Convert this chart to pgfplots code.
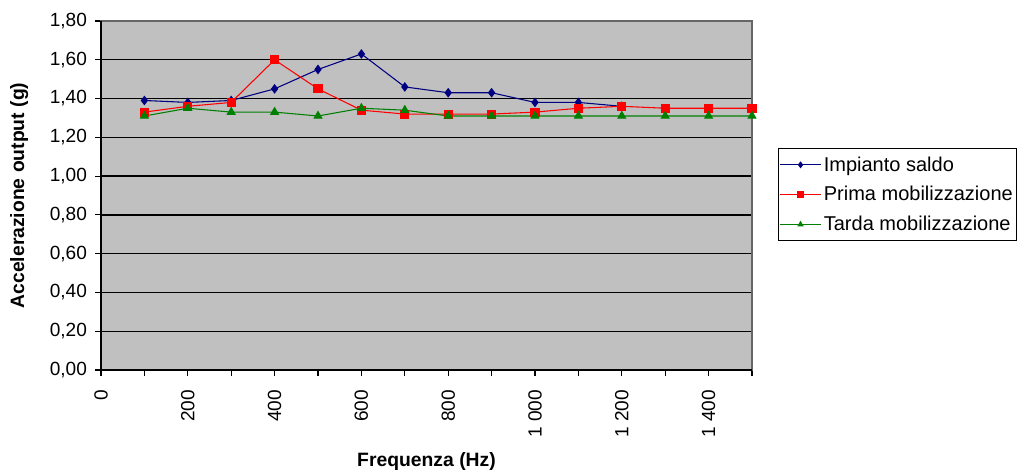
\documentclass[border=0pt]{standalone}
\usepackage{fontspec}
\setmainfont{Liberation Sans}
\usepackage{pgfplots}
\pgfplotsset{compat=1.18}
\definecolor{bgc}{HTML}{C0C0C0}
\definecolor{navyc}{HTML}{000080}
\definecolor{redc}{HTML}{FF0000}
\definecolor{greenc}{HTML}{008000}
\begin{document}
\begin{tikzpicture}
\useasboundingbox (-75.75pt,-75pt) rectangle (690.75pt,277.5pt);
\begin{axis}[
  at={(0,0)}, anchor=south west,
  scale only axis, width=488.25pt, height=261.75pt,
  xmin=0, xmax=1500, ymin=0, ymax=1.8,
  axis background/.style={fill=bgc},
  axis line style={draw=gray!80!black, line width=0.8pt},
  xtick={0,100,...,1500},
  xticklabels={0,,200,,400,,600,,800,,1 000,,1 200,,1 400,},
  ytick={0,0.2,...,1.81},
  tick pos=left, tick align=outside,
  major tick length=4.5pt,
  tick style={black, line width=0.8pt},
  ymajorgrids, grid style={black, line width=1pt},
  xticklabel shift=7pt, yticklabel shift=2.5pt,
  x tick label style={rotate=90, anchor=east, font=\fontsize{14.3}{16}\selectfont},
  y tick label style={font=\fontsize{14.3}{16}\selectfont},
  /pgf/number format/assume math mode=true,
  yticklabel style={/pgf/number format/.cd, use comma, fixed, fixed zerofill, precision=2},
  xlabel={\textbf{Frequenza (Hz)}},
  ylabel={\textbf{Accelerazione output (g)}},
  label style={font=\fontsize{14.5}{16}\selectfont},
  xlabel style={at={(rel axis cs:0.5,0)}, anchor=north, yshift=-58pt},
  ylabel style={at={(rel axis cs:0,0.5)}, anchor=south, yshift=51pt},
  legend style={at={(1.04,0.636)}, anchor=north west, draw=black, line width=0.8pt,
    fill=white, font=\fontsize{15}{17}\selectfont, row sep=6pt, inner xsep=1pt, inner ysep=4pt,
    legend cell align=left},
  legend image code/.code={\draw[mark repeat=2,mark phase=2,#1] plot coordinates {(0cm,0cm)(0.53cm,0cm)(1.06cm,0cm)};},
  legend image post style={line width=0.8pt, mark size=2pt},
  clip=false,
]
\addplot[navyc, line width=0.8pt, mark=diamond*, mark size=3pt] coordinates {
(100,1.39) (200,1.38) (300,1.39) (400,1.45) (500,1.55) (600,1.63) (700,1.46) (800,1.43) (900,1.43) (1000,1.38) (1100,1.38) (1200,1.36)};
\addlegendentry{Impianto saldo}
\addplot[redc, line width=0.8pt, mark=square*, mark size=3pt] coordinates {
(100,1.33) (200,1.36) (300,1.38) (400,1.60) (500,1.45) (600,1.34) (700,1.32) (800,1.32) (900,1.32) (1000,1.33) (1100,1.35) (1200,1.36) (1300,1.35) (1400,1.35) (1500,1.35)};
\addlegendentry{Prima mobilizzazione}
\addplot[greenc, line width=0.8pt, mark=triangle*, mark size=3.3pt] coordinates {
(100,1.31) (200,1.35) (300,1.33) (400,1.33) (500,1.31) (600,1.35) (700,1.34) (800,1.31) (900,1.31) (1000,1.31) (1100,1.31) (1200,1.31) (1300,1.31) (1400,1.31) (1500,1.31)};
\addlegendentry{Tarda mobilizzazione}
\draw[black, line width=0.8pt] (rel axis cs:0,1) -- (rel axis cs:0,0) -- (rel axis cs:1,0);
\end{axis}
\end{tikzpicture}
\end{document}
